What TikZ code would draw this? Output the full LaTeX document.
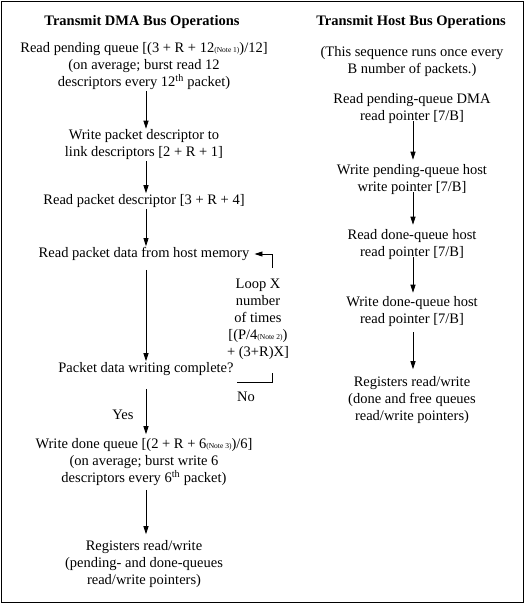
\documentclass[tikz,border=0pt]{standalone}
\usepackage{fontspec}
\setmainfont{Liberation Serif}
\usetikzlibrary{arrows.meta}
\newcommand{\notetxt}[1]{{\fontsize{7.5}{7.5}\selectfont(Note #1)}}
\newcommand{\thsup}{\textsuperscript{th}}
\begin{document}
\begin{tikzpicture}[x=1pt,y=-1pt,
  txt/.style={font=\fontsize{14.5}{17}\selectfont, align=center, inner sep=1pt},
  ttl/.style={font=\fontsize{14.5}{17}\selectfont\bfseries, inner sep=1pt},
  arr/.style={-{Triangle[width=5pt,length=8pt]}, line width=0.8pt},
  ln/.style={line width=0.8pt}]
\useasboundingbox (0,0) rectangle (525,604);
\draw[line width=0.8pt] (1,1) rectangle (523,602);
% left column
\node[ttl] (t1) at (142,22) {Transmit DMA Bus Operations};
\node[txt] (l1) at (144,66) {Read pending queue [(3 + R + 12\notetxt{1})/12]\\(on average; burst read 12\\descriptors every 12\thsup{} packet)};
\node[txt] (l2) at (144,145) {Write packet descriptor to\\link descriptors [2 + R + 1]};
\node[txt] (l3) at (144,201) {Read packet descriptor [3 + R + 4]};
\node[txt] (l4) at (144,254) {Read packet data from host memory};
\node[txt] (l5) at (146,369) {Packet data writing complete?};
\node[txt] (l6) at (144,462) {Write done queue [(2 + R + 6\notetxt{3})/6]\\(on average; burst write 6\\descriptors every 6\thsup{} packet)};
\node[txt] (l7) at (144,564) {Registers read/write\\(pending- and done-queues\\read/write pointers)};
\node[txt] (yes) at (123,415) {Yes};
\node[txt] (loop) at (258,319) {Loop X\\number\\of times\\{}[(P/4\notetxt{2})\\+ (3+R)X]};
\node[txt] (no) at (246,397) {No};
\coordinate (lt) at (272,268);
\coordinate (lb1) at (237,382);
\coordinate (lb2) at (272,382);
\coordinate (lb3) at (272,373);
\draw[arr] (l1.south -| 146,0) -- (l2.north -| 146,0);
\draw[arr] (l2.south -| 146,0) -- (l3.north -| 146,0);
\draw[arr] (l3.south -| 146,0) -- (l4.north -| 146,0);
\draw[arr, shorten <=8pt] (l4.south -| 146,0) -- (l5.north -| 146,0);
\draw[arr, shorten <=12pt, shorten >=3pt] (l5.south -| 146,0) -- (l6.north -| 146,0);
\draw[arr, shorten <=3pt, shorten >=5pt] (l6.south -| 146,0) -- (l7.north -| 146,0);
\draw[arr, shorten >=4pt] (lt) |- (l4.east);
\draw[ln] (lb1) -- (lb2) -- (lb3);
% right column
\node[ttl] (t2) at (411,22) {Transmit Host Bus Operations};
\node[txt] (r0) at (412,62) {(This sequence runs once every\\B number of packets.)};
\node[txt] (r1) at (412,109) {Read pending-queue DMA\\read pointer [7/B]};
\node[txt] (r2) at (412,180) {Write pending-queue host\\write pointer [7/B]};
\node[txt] (r3) at (412,245) {Read done-queue host\\read pointer [7/B]};
\node[txt] (r4) at (412,312) {Write done-queue host\\read pointer [7/B]};
\node[txt] (r5) at (412,400) {Registers read/write\\(done and free queues\\read/write pointers)};
\draw[arr, shorten <=-4pt, shorten >=4pt] (r1.south -| 413,0) -- (r2.north -| 413,0);
\draw[arr, shorten <=-4pt, shorten >=4pt] (r2.south -| 413,0) -- (r3.north -| 413,0);
\draw[arr, shorten <=-4pt, shorten >=3pt] (r3.south -| 413,0) -- (r4.north -| 413,0);
\draw[arr, shorten <=4pt, shorten >=6pt] (r4.south -| 413,0) -- (r5.north -| 413,0);
\end{tikzpicture}
\end{document}
